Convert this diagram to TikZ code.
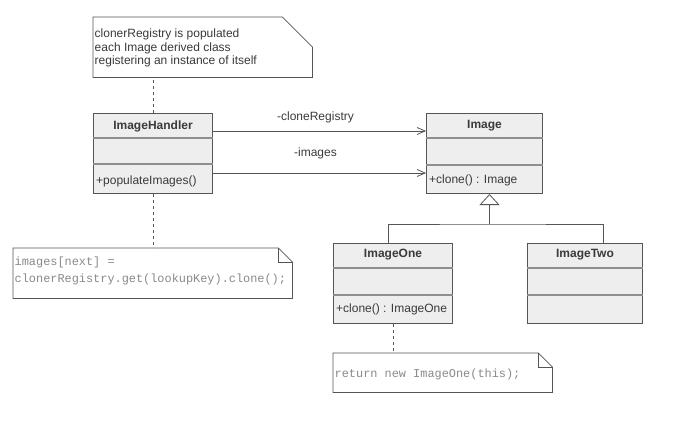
\documentclass[tikz,border=0pt]{standalone}
\usepackage{fontspec}
\setmainfont{Liberation Sans}
\setmonofont{Liberation Mono}
\usetikzlibrary{arrows.meta}

\definecolor{boxfill}{HTML}{EEEEEE}
\definecolor{boxline}{HTML}{555555}
\definecolor{compline}{HTML}{8E8E8E}
\definecolor{labeltext}{HTML}{3A3A3A}
\definecolor{codetext}{HTML}{8A8A8A}

\tikzset{
    umlclass/.style = {draw = boxline, fill = boxfill, line width = 1pt, anchor = north west, inner sep = 0pt},
    compsep/.style = {draw = compline, line width = 1.8pt},
    classname/.style = {font = \fontsize{12}{14}\selectfont\bfseries, text = labeltext, inner sep = 0pt},
    member/.style = {font = \fontsize{12}{14}\selectfont, text = labeltext, inner sep = 0pt, anchor = west},
    notebox/.style = {anchor = north west, inner sep = 0pt},
    noteline/.style = {draw = boxline, fill = white, line width = 0.8pt},
    notetext/.style = {font = \fontsize{12}{13.5}\selectfont, text = labeltext, inner sep = 0pt, anchor = west, align = left},
    codenote/.style = {font = \fontsize{11.9}{17}\selectfont\ttfamily, text = codetext, inner sep = 0pt, anchor = west, align = left},
    assoc/.style = {draw = boxline, line width = 0.8pt, -{Straight Barb[length=8pt, width=7pt]}},
    inherit/.style = {draw = boxline, line width = 0.8pt},
    notelink/.style = {draw = boxline, line width = 0.8pt, dash pattern = on 3pt off 3pt}
}

\begin{document}
\begin{tikzpicture}[x = 1pt, y = -1pt]
        \useasboundingbox (0,0) rectangle (682,420);

        % notes
        \node [notebox, minimum width = 219pt, minimum height = 60pt] (regnote) at (93,17) {};
        \draw [noteline] (regnote.north west) -- ([xshift=-30pt]regnote.north east) -- ([yshift=-30pt]regnote.north east) -- (regnote.south east) -- (regnote.south west) -- cycle;
        \node [notetext] (regtext) at ([xshift=1.5pt, yshift=-1pt]regnote.west) {clonerRegistry is populated\\each Image derived class\\registering an instance of itself};

        \node [notebox, minimum width = 279pt, minimum height = 50pt] (popnote) at (13,248) {};
        \draw [noteline] (popnote.north west) -- ([xshift=-14pt]popnote.north east) -- ([yshift=-14pt]popnote.north east) -- (popnote.south east) -- (popnote.south west) -- cycle;
        \draw [noteline, fill = none] ([xshift=-14pt]popnote.north east) |- ([yshift=-14pt]popnote.north east);
        \node [codenote] (poptext) at ([xshift=1.5pt, yshift=2.5pt]popnote.west) {images[next] =\\clonerRegistry.get(lookupKey).clone();};

        \node [notebox, minimum width = 219pt, minimum height = 39pt] (clonenote) at (333,353) {};
        \draw [noteline] (clonenote.north west) -- ([xshift=-14pt]clonenote.north east) -- ([yshift=-14pt]clonenote.north east) -- (clonenote.south east) -- (clonenote.south west) -- cycle;
        \draw [noteline, fill = none] ([xshift=-14pt]clonenote.north east) |- ([yshift=-14pt]clonenote.north east);
        \node [codenote] (clonetext) at ([xshift=1.5pt, yshift=-1.5pt]clonenote.west) {return new ImageOne(this);};

        % classes
        \node [umlclass, minimum width = 119pt, minimum height = 80pt] (handler) at (93,113) {};
        \draw [compsep] ([yshift=-25pt]handler.north west) -- ([yshift=-25pt]handler.north east);
        \draw [compsep] ([yshift=-51pt]handler.north west) -- ([yshift=-51pt]handler.north east);
        \node [classname] (handlername) at ([yshift=-13pt]handler.north) {ImageHandler};
        \node [member] (handlerop) at ([xshift=3pt, yshift=13pt]handler.south west) {+populateImages()};

        \node [umlclass, minimum width = 116pt, minimum height = 80pt] (image) at (426,113) {};
        \draw [compsep] ([yshift=-25pt]image.north west) -- ([yshift=-25pt]image.north east);
        \draw [compsep] ([yshift=-52pt]image.north west) -- ([yshift=-52pt]image.north east);
        \node [classname] (imagename) at ([yshift=-13pt]image.north) {Image};
        \node [member] (imageop) at ([xshift=3pt, yshift=14pt]image.south west) {+clone() : Image};

        \node [umlclass, minimum width = 119pt, minimum height = 80pt] (imgone) at (333,243) {};
        \draw [compsep] ([yshift=-25pt]imgone.north west) -- ([yshift=-25pt]imgone.north east);
        \draw [compsep] ([yshift=-52pt]imgone.north west) -- ([yshift=-52pt]imgone.north east);
        \node [classname] (imgonename) at ([yshift=-12pt]imgone.north) {ImageOne};
        \node [member] (imgoneop) at ([xshift=3pt, yshift=15pt]imgone.south west) {+clone() : ImageOne};

        \node [umlclass, minimum width = 115pt, minimum height = 80pt] (imgtwo) at (527,243) {};
        \draw [compsep] ([yshift=-25pt]imgtwo.north west) -- ([yshift=-25pt]imgtwo.north east);
        \draw [compsep] ([yshift=-52pt]imgtwo.north west) -- ([yshift=-52pt]imgtwo.north east);
        \node [classname] (imgtwoname) at ([yshift=-12pt]imgtwo.north) {ImageTwo};

        % associations
        \draw [assoc] ([yshift=-18pt]handler.north east) -- ([yshift=-18pt]image.north west)
            node [member, anchor = center, midway, xshift = -4pt, yshift = 14pt] {-cloneRegistry};
        \draw [assoc] ([yshift=-60pt]handler.north east) -- ([yshift=-60pt]image.north west)
            node [member, anchor = center, midway, xshift = -4pt, yshift = 20pt] {-images};

        % generalization
        \coordinate (branch) at ([xshift=5pt]image.south |- 0,224);
        \draw [inherit] ([xshift=-4.5pt]imgone.north) |- (branch) -| ([xshift=18.5pt]imgtwo.north);
        \draw [inherit, -{Triangle[open, length=11pt, width=20pt, fill=white]}] (branch) -- ([xshift=5pt]image.south);

        % note links
        \draw [notelink] (handler.north) -- (handler.north |- regnote.south);
        \draw [notelink] (handler.south) -- (handler.south |- popnote.north);
        \draw [notelink] (imgone.south) -- (imgone.south |- clonenote.north);
    \end{tikzpicture}
\end{document}
